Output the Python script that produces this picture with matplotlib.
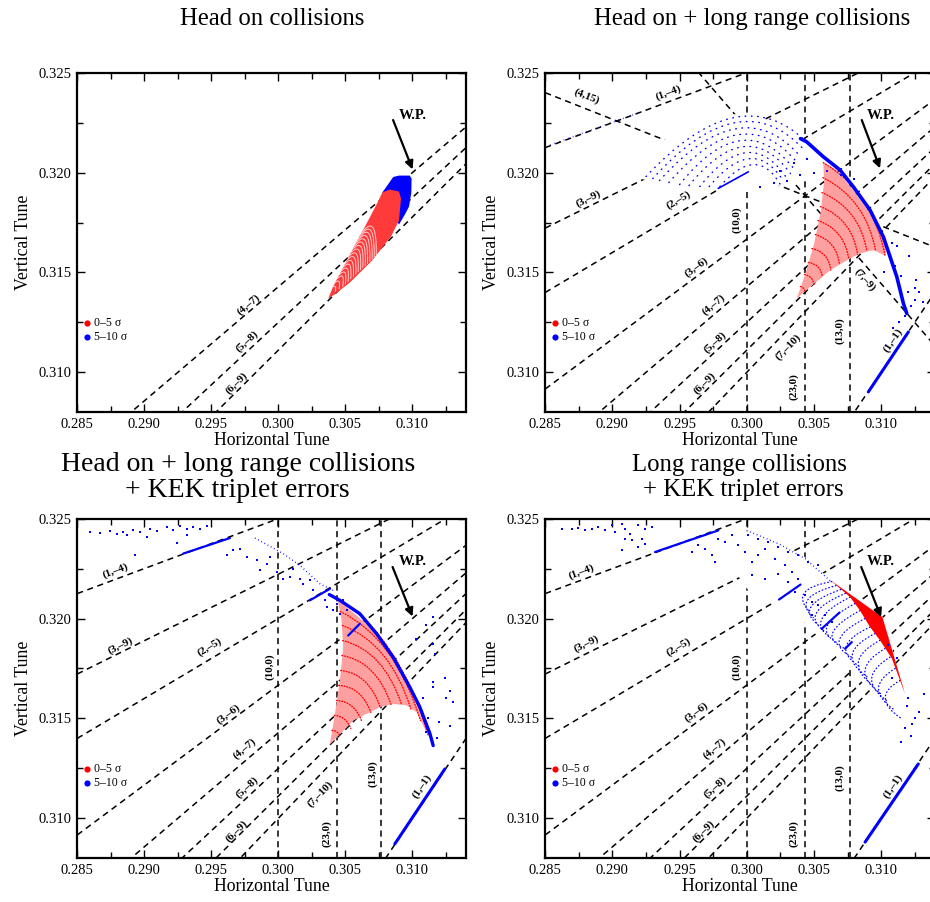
import numpy as np
import matplotlib
matplotlib.use("Agg")
import matplotlib.pyplot as plt
from matplotlib.path import Path
from matplotlib.patches import PathPatch, Polygon

plt.rcParams['font.family'] = ['Liberation Serif', 'DejaVu Serif']

# ---------------- data ----------------
QX_RANGE = (0.285, 0.314)
QY_RANGE = (0.308, 0.325)
x_ticks = [0.285, 0.290, 0.295, 0.300, 0.305, 0.310]
y_ticks = [0.310, 0.315, 0.320, 0.325]

# resonance lines m*Qx + n*Qy = p  -> (m, n, p)
res_ho = [(4, -7, -1), (5, -8, -1), (6, -9, -1)]
res_lr = [(1, -4, -1), (3, -9, -2), (2, -5, -1), (3, -6, -1), (4, -7, -1),
          (5, -8, -1), (6, -9, -1), (7, -10, -1), (10, 0, 3), (23, 0, 7),
          (13, 0, 4), (1, -1, 0)]
res_extra = [(4, 15, 6), (7, 9, 5)]

# resonance labels: text, qx, qy, (m, n) for direction
lab_p1 = [("(4,\u20137)", 0.29775, 0.31340, (4, -7)),
          ("(5,\u20138)", 0.29763, 0.31155, (5, -8)),
          ("(6,\u20139)", 0.29689, 0.30948, (6, -9))]
lab_p2 = [("(4,15)", 0.28808, 0.32380, (4, 15)),
          ("(1,\u20134)", 0.29416, 0.32397, (1, -4)),
          ("(3,\u20139)", 0.28820, 0.31871, (3, -9)),
          ("(2,\u20135)", 0.29490, 0.31862, (2, -5)),
          ("(10,0)", 0.29925, 0.31762, (10, 0)),
          ("(3,\u20136)", 0.29627, 0.31528, (3, -6)),
          ("(4,\u20137)", 0.29751, 0.31340, (4, -7)),
          ("(5,\u20138)", 0.29764, 0.31152, (5, -8)),
          ("(6,\u20139)", 0.29689, 0.30944, (6, -9)),
          ("(7,\u201310)", 0.30309, 0.31127, (7, -10)),
          ("(23,0)", 0.30347, 0.30927, (23, 0)),
          ("(13,0)", 0.30694, 0.31211, (13, 0)),
          ("(7,\u20139)", 0.30881, 0.31461, (7, 9)),
          ("(1,\u20131)", 0.31091, 0.31161, (1, -1))]
lab_p3 = [("(1,\u20134)", 0.28781, 0.32241, (1, -4)),
          ("(3,\u20139)", 0.28818, 0.31865, (3, -9)),
          ("(2,\u20135)", 0.29490, 0.31857, (2, -5)),
          ("(10,0)", 0.29937, 0.31757, (10, 0)),
          ("(3,\u20136)", 0.29626, 0.31523, (3, -6)),
          ("(4,\u20137)", 0.29751, 0.31348, (4, -7)),
          ("(5,\u20138)", 0.29763, 0.31155, (5, -8)),
          ("(6,\u20139)", 0.29689, 0.30938, (6, -9)),
          ("(7,\u201310)", 0.30310, 0.31122, (7, -10)),
          ("(23,0)", 0.30360, 0.30922, (23, 0)),
          ("(13,0)", 0.30707, 0.31222, (13, 0)),
          ("(1,\u20131)", 0.31068, 0.31162, (1, -1))]
lab_p4 = [("(1,\u20134)", 0.28771, 0.32232, (1, -4)),
          ("(3,\u20139)", 0.28808, 0.31874, (3, -9)),
          ("(2,\u20135)", 0.29490, 0.31857, (2, -5)),
          ("(10,0)", 0.29925, 0.31757, (10, 0)),
          ("(3,\u20136)", 0.29627, 0.31532, (3, -6)),
          ("(4,\u20137)", 0.29764, 0.31348, (4, -7)),
          ("(5,\u20138)", 0.29764, 0.31155, (5, -8)),
          ("(6,\u20139)", 0.29676, 0.30938, (6, -9)),
          ("(23,0)", 0.30347, 0.30922, (23, 0)),
          ("(13,0)", 0.30694, 0.31205, (13, 0)),
          ("(1,\u20131)", 0.31091, 0.31162, (1, -1))]

# W.P. arrows: text position, arrow tail, arrow head
wp_p1 = [(0.31006, 0.32288), (0.30856, 0.32263), (0.31001, 0.32016)]
wp_p2 = [(0.30998, 0.32288), (0.30856, 0.32263), (0.30992, 0.32021)]
wp_p3 = [(0.31006, 0.32283), (0.30852, 0.32258), (0.31001, 0.32010)]
wp_p4 = [(0.30998, 0.32283), (0.30852, 0.32258), (0.31000, 0.32007)]

# ---- panel 1: head on ----
p1_red_qx = [0.30372, 0.30409, 0.30534, 0.30670, 0.30740, 0.30775, 0.30830, 0.30900,
             0.30915, 0.30900, 0.30840, 0.30700, 0.30534, 0.30420]
p1_red_qy = [0.31370, 0.31430, 0.31590, 0.31760, 0.31850, 0.31900, 0.31915, 0.31905,
             0.31870, 0.31760, 0.31680, 0.31560, 0.31450, 0.31390]
p1_blue_qx = [0.30775, 0.30807, 0.30857, 0.30900, 0.30980, 0.30994, 0.30992, 0.30975,
              0.30944, 0.30900, 0.30880]
p1_blue_qy = [0.31900, 0.31930, 0.31978, 0.31985, 0.31985, 0.31970, 0.31900, 0.31830,
              0.31790, 0.31740, 0.31760]
# constant-amplitude arcs: start, mid, end
p1_arc_start = [(0.30400, 0.31425), (0.30420, 0.31448), (0.30440, 0.31470), (0.30455, 0.31489),
                (0.30470, 0.31508), (0.30485, 0.31527), (0.30500, 0.31545), (0.30515, 0.31564),
                (0.30530, 0.31583), (0.30545, 0.31602), (0.30560, 0.31620), (0.30573, 0.31635),
                (0.30585, 0.31650), (0.30598, 0.31665), (0.30610, 0.31680), (0.30623, 0.31695),
                (0.30635, 0.31710)]
p1_arc_mid = [(0.30425, 0.31430), (0.30453, 0.31455), (0.30480, 0.31480), (0.30498, 0.31499),
              (0.30515, 0.31518), (0.30533, 0.31537), (0.30550, 0.31555), (0.30568, 0.31573),
              (0.30585, 0.31590), (0.30603, 0.31608), (0.30620, 0.31625), (0.30635, 0.31642),
              (0.30650, 0.31658), (0.30665, 0.31674), (0.30680, 0.31690), (0.30695, 0.31705),
              (0.30710, 0.31720)]
p1_arc_end = [(0.30425, 0.31405), (0.30453, 0.31418), (0.30480, 0.31430), (0.30500, 0.31443),
              (0.30520, 0.31455), (0.30540, 0.31468), (0.30560, 0.31480), (0.30578, 0.31492),
              (0.30595, 0.31503), (0.30613, 0.31514), (0.30630, 0.31525), (0.30648, 0.31535),
              (0.30665, 0.31545), (0.30683, 0.31555), (0.30700, 0.31565), (0.30715, 0.31577),
              (0.30730, 0.31588)]

# ---- panel 2: head on + long range ----
p2_red_qx = [0.30372, 0.30430, 0.30500, 0.30550, 0.30575, 0.30570, 0.30670, 0.30793,
             0.30918, 0.31017, 0.31042, 0.31029, 0.30942, 0.30843, 0.30769, 0.30620]
p2_red_qy = [0.31370, 0.31480, 0.31640, 0.31800, 0.31950, 0.32050, 0.32013, 0.31912,
             0.31796, 0.31678, 0.31612, 0.31585, 0.31612, 0.31595, 0.31570, 0.31511]
p2_arc_start = [(0.30400, 0.31430), (0.30430, 0.31490), (0.30458, 0.31550), (0.30485, 0.31620),
                (0.30510, 0.31690), (0.30530, 0.31760), (0.30548, 0.31830), (0.30560, 0.31900),
                (0.30567, 0.31975), (0.30570, 0.32050)]
p2_arc_mid = [(0.30425, 0.31419), (0.30479, 0.31473), (0.30531, 0.31528), (0.30583, 0.31583),
              (0.30635, 0.31636), (0.30687, 0.31688), (0.30736, 0.31739), (0.30784, 0.31786),
              (0.30827, 0.31828), (0.30870, 0.31860)]
p2_arc_end = [(0.30435, 0.31400), (0.30500, 0.31440), (0.30562, 0.31480), (0.30625, 0.31512),
              (0.30690, 0.31540), (0.30760, 0.31565), (0.30825, 0.31590), (0.30895, 0.31605),
              (0.30960, 0.31605), (0.31029, 0.31585)]
p2_band_qx = [0.30400, 0.30446, 0.30570, 0.30694, 0.30793, 0.30918, 0.31017, 0.31067,
              0.31117, 0.31166, 0.31191]
p2_band_qy = [0.32170, 0.32154, 0.32079, 0.32013, 0.31929, 0.31812, 0.31678, 0.31578,
              0.31478, 0.31345, 0.31295]
p2_dome_start = [(0.29250, 0.31980), (0.29300, 0.31970), (0.29350, 0.31960), (0.29420, 0.31950),
                 (0.29500, 0.31940), (0.29570, 0.31935), (0.29650, 0.31930), (0.29720, 0.31930),
                 (0.29800, 0.31930)]
p2_dome_mid = [(0.29900, 0.32275), (0.29910, 0.32250), (0.29920, 0.32220), (0.29935, 0.32190),
               (0.29950, 0.32160), (0.29975, 0.32130), (0.30000, 0.32100), (0.30025, 0.32070),
               (0.30050, 0.32040)]
p2_dome_end = [(0.30450, 0.32150), (0.30425, 0.32115), (0.30400, 0.32080), (0.30375, 0.32050),
               (0.30350, 0.32020), (0.30325, 0.31995), (0.30300, 0.31970), (0.30275, 0.31955),
               (0.30250, 0.31940)]
p2_mask_qx = [0.2920, 0.2930, 0.2950, 0.2975, 0.2995, 0.3015, 0.3035, 0.3050, 0.3057,
              0.3045, 0.3030, 0.3010, 0.2990, 0.2960, 0.2935]
p2_mask_qy = [0.3197, 0.3212, 0.3222, 0.3228, 0.32295, 0.3226, 0.3220, 0.3214, 0.3205,
              0.3198, 0.3194, 0.3192, 0.3191, 0.3193, 0.3195]
p2_tail = [(0.28535, 0.32138), (0.29218, 0.32305)]
p2_seg = [(0.29788, 0.31921), (0.30012, 0.32004)]
p2_dots_qx = [0.3105, 0.3110, 0.3115, 0.3120, 0.3125, 0.3122, 0.3118, 0.3108, 0.3112, 0.3102,
              0.3125, 0.3113, 0.3109, 0.3121, 0.3010, 0.3020, 0.3030, 0.3040, 0.3050, 0.3060,
              0.3070, 0.3080, 0.3025, 0.3035, 0.3045, 0.3128, 0.3131, 0.3126]
p2_dots_qy = [0.3160, 0.3153, 0.3148, 0.3140, 0.3142, 0.3133, 0.3128, 0.3165, 0.3163, 0.3150,
              0.3136, 0.3125, 0.3122, 0.3158, 0.3193, 0.3195, 0.3196, 0.3199, 0.3200, 0.3201,
              0.3199, 0.3197, 0.3201, 0.3205, 0.3207, 0.3140, 0.3135, 0.3146]
p2_diag = [(0.30905, 0.30902), (0.31203, 0.31202)]

# ---- panel 3: head on + long range + KEK triplet errors ----
p3_red_qx = [0.30384, 0.30422, 0.30459, 0.30484, 0.30470, 0.30440, 0.30509, 0.30658,
             0.30807, 0.30931, 0.31006, 0.31056, 0.31106, 0.31118, 0.31031, 0.30956,
             0.30856, 0.30757, 0.30558]
p3_red_qy = [0.31369, 0.31523, 0.31690, 0.31857, 0.32000, 0.32100, 0.32057, 0.31974,
             0.31857, 0.31723, 0.31623, 0.31523, 0.31456, 0.31414, 0.31531, 0.31565,
             0.31573, 0.31556, 0.31489]
p3_arc_start = [(0.30400, 0.31440), (0.30417, 0.31515), (0.30433, 0.31590), (0.30449, 0.31665),
                (0.30465, 0.31740), (0.30474, 0.31815), (0.30480, 0.31890), (0.30478, 0.31965),
                (0.30462, 0.32035), (0.30440, 0.32100)]
p3_arc_mid = [(0.30436, 0.31433), (0.30491, 0.31498), (0.30545, 0.31563), (0.30594, 0.31629),
              (0.30643, 0.31687), (0.30694, 0.31739), (0.30743, 0.31784), (0.30783, 0.31817),
              (0.30816, 0.31833), (0.30840, 0.31835)]
p3_arc_end = [(0.30460, 0.31410), (0.30540, 0.31450), (0.30620, 0.31490), (0.30690, 0.31530),
              (0.30760, 0.31556), (0.30840, 0.31570), (0.30920, 0.31568), (0.30990, 0.31545),
              (0.31060, 0.31490), (0.31118, 0.31414)]
p3_band_qx = [0.30380, 0.30459, 0.30608, 0.30733, 0.30856, 0.30981, 0.31056, 0.31131, 0.31155]
p3_band_qy = [0.32120, 0.32091, 0.32024, 0.31924, 0.31807, 0.31656, 0.31556, 0.31423, 0.31364]
p3_chain = [(0.29825, 0.32403), (0.30036, 0.32325), (0.30161, 0.32266), (0.30310, 0.32174),
            (0.30409, 0.32141)]
p3_segs = [[(0.29290, 0.32325), (0.29639, 0.32403)],
           [(0.30235, 0.32091), (0.30385, 0.32149)],
           [(0.30521, 0.31915), (0.30608, 0.31974)]]
p3_dots_qx = [0.28595, 0.28670, 0.28744, 0.28794, 0.28844, 0.28869, 0.28918, 0.28968, 0.29043,
              0.29093, 0.29167, 0.29217, 0.29267, 0.29317, 0.29366, 0.29416, 0.29466, 0.29018,
              0.29242, 0.29317, 0.28931,
              0.29614, 0.29664, 0.29714, 0.29763, 0.29838, 0.29863, 0.29913, 0.29938, 0.29987,
              0.30037, 0.30087, 0.30112, 0.30161, 0.30186, 0.30236, 0.30261, 0.30310, 0.30348,
              0.30360, 0.30410, 0.30435, 0.30460, 0.30510, 0.30485,
              0.31155, 0.31282, 0.31155, 0.31170, 0.31250, 0.31300, 0.31120, 0.31200, 0.31280,
              0.31080, 0.31150, 0.31100, 0.31180, 0.31030, 0.31100, 0.31155, 0.31240]
p3_dots_qy = [0.32433, 0.32428, 0.32438, 0.32425, 0.32433, 0.32416, 0.32445, 0.32433, 0.32450,
              0.32438, 0.32458, 0.32445, 0.32461, 0.32450, 0.32458, 0.32450, 0.32461, 0.32408,
              0.32378, 0.32416, 0.32316,
              0.32316, 0.32341, 0.32349, 0.32308, 0.32291, 0.32241, 0.32274, 0.32308, 0.32233,
              0.32200, 0.32208, 0.32250, 0.32200, 0.32175, 0.32191, 0.32141, 0.32125, 0.32091,
              0.32058, 0.32041, 0.32075, 0.32025, 0.32041, 0.32091,
              0.31656, 0.31639, 0.31874, 0.31820, 0.31600, 0.31580, 0.31500, 0.31480, 0.31460,
              0.31600, 0.31680, 0.31430, 0.31400, 0.31900, 0.31970, 0.32010, 0.31700]
p3_diag = [(0.30869, 0.30872), (0.31242, 0.31247)]

# ---- panel 4: long range + KEK triplet errors ----
p4_red_qx = [0.30625, 0.31010, 0.31178, 0.31141, 0.31080, 0.30992, 0.30918, 0.30843, 0.30769]
p4_red_qy = [0.32191, 0.32007, 0.31623, 0.31690, 0.31800, 0.31891, 0.31957, 0.32040, 0.32107]
p4_arc_start = [(0.30633, 0.32185), (0.30665, 0.32165), (0.30700, 0.32145), (0.30735, 0.32126),
                (0.30769, 0.32107), (0.30805, 0.32075), (0.30843, 0.32040), (0.30880, 0.32000),
                (0.30918, 0.31957), (0.30955, 0.31925), (0.30992, 0.31891), (0.31030, 0.31850),
                (0.31067, 0.31807), (0.31105, 0.31750), (0.31141, 0.31690)]
p4_arc_mid = [(0.30430, 0.32130), (0.30455, 0.32095), (0.30480, 0.32060), (0.30520, 0.32030),
              (0.30560, 0.32000), (0.30600, 0.31965), (0.30640, 0.31930), (0.30690, 0.31895),
              (0.30740, 0.31860), (0.30785, 0.31820), (0.30830, 0.31780), (0.30880, 0.31740),
              (0.30930, 0.31700), (0.30980, 0.31650), (0.31030, 0.31600)]
p4_arc_end = [(0.30460, 0.32040), (0.30495, 0.32005), (0.30530, 0.31970), (0.30575, 0.31938),
              (0.30620, 0.31905), (0.30675, 0.31878), (0.30730, 0.31850), (0.30785, 0.31805),
              (0.30840, 0.31760), (0.30895, 0.31710), (0.30950, 0.31660), (0.30995, 0.31625),
              (0.31040, 0.31590), (0.31095, 0.31545), (0.31150, 0.31500)]
p4_chain = [(0.29999, 0.32441), (0.30235, 0.32375), (0.30434, 0.32300), (0.30633, 0.32182)]
p4_segs = [[(0.29317, 0.32333), (0.29788, 0.32441)],
           [(0.30240, 0.32095), (0.30400, 0.32170)],
           [(0.30560, 0.31950), (0.30690, 0.32030)],
           [(0.30732, 0.31849), (0.30782, 0.31882)]]
p4_mask_qx = [0.2995, 0.3025, 0.3045, 0.3063, 0.3101, 0.3118, 0.3125, 0.3110, 0.3090,
              0.3070, 0.3050, 0.3040, 0.3025, 0.3000, 0.2990, 0.2975]
p4_mask_qy = [0.3245, 0.3238, 0.3230, 0.3219, 0.3201, 0.3162, 0.3145, 0.3150, 0.3165,
              0.3180, 0.3193, 0.3200, 0.3205, 0.3215, 0.3225, 0.3232]
p4_dots_qx = [0.28622, 0.28696, 0.28746, 0.28796, 0.28845, 0.28895, 0.28945, 0.28994, 0.29019,
              0.29069, 0.29093, 0.29131, 0.29143, 0.29193, 0.29243, 0.29292, 0.29093, 0.29218,
              0.29069, 0.29193, 0.29243,
              0.29590, 0.29640, 0.29689, 0.29739, 0.29764, 0.29788, 0.29838, 0.29888, 0.29937,
              0.29987, 0.30036, 0.30086, 0.30136, 0.30211, 0.30285, 0.30335, 0.30384, 0.30036,
              0.30136, 0.30235, 0.30012, 0.30086, 0.30161, 0.30235, 0.30310, 0.30384, 0.30459,
              0.30533, 0.30310, 0.30360, 0.30434, 0.30484, 0.30533, 0.30583, 0.30633, 0.30558,
              0.30484,
              0.31200, 0.31250, 0.31180, 0.31220, 0.31280, 0.31320, 0.31150, 0.31080, 0.31120,
              0.31050, 0.31190, 0.31230]
p4_dots_qy = [0.32450, 0.32450, 0.32453, 0.32441, 0.32450, 0.32458, 0.32441, 0.32466, 0.32433,
              0.32475, 0.32450, 0.32425, 0.32391, 0.32466, 0.32450, 0.32458, 0.32400, 0.32400,
              0.32341, 0.32358, 0.32375,
              0.32333, 0.32366, 0.32350, 0.32316, 0.32283, 0.32400, 0.32383, 0.32416, 0.32366,
              0.32333, 0.32283, 0.32316, 0.32350, 0.32300, 0.32266, 0.32233, 0.32199, 0.32216,
              0.32199, 0.32225, 0.32416, 0.32400, 0.32383, 0.32358, 0.32333, 0.32316, 0.32283,
              0.32266, 0.32183, 0.32133, 0.32116, 0.32083, 0.32066, 0.32016, 0.31983, 0.31949,
              0.32016,
              0.31600, 0.31500, 0.31450, 0.31410, 0.31530, 0.31620, 0.31380, 0.31700, 0.31800,
              0.31870, 0.31560, 0.31470]
p4_diag = [(0.30881, 0.30881), (0.31277, 0.31272)]

legend_labels = ["0\u20135 \u03c3", "5\u201310 \u03c3"]

# ---------------- drawing helpers ----------------
DASH = (0, (4, 3))


def draw_res(ax, res):
    xs = np.array(QX_RANGE)
    for m, n, p in res:
        if n == 0:
            ax.axvline(p / m, color='black', lw=1.1, linestyle=DASH, zorder=1)
        else:
            ax.plot(xs, (p - m * xs) / n, color='black', lw=1.1, linestyle=DASH, zorder=1)


def draw_labels(ax, labels):
    for txt, x, y, (m, n) in labels:
        ang = 90.0 if n == 0 else np.degrees(np.arctan(-m / n))
        ax.text(x, y, txt, fontsize=8, fontweight='bold', ha='center', va='center',
                rotation=ang, rotation_mode='anchor', transform_rotates_text=True, zorder=6)


def draw_arcs(ax, starts, mids, ends, color, lw=1.0, style=(0, (0.6, 1.4))):
    for s, m, e in zip(starts, mids, ends):
        s, m, e = np.array(s), np.array(m), np.array(e)
        ctrl = 2 * m - 0.5 * (s + e)
        path = Path([s, ctrl, e], [Path.MOVETO, Path.CURVE3, Path.CURVE3])
        ax.add_patch(PathPatch(path, fill=False, edgecolor=color, lw=lw,
                               linestyle=style, capstyle='round', zorder=4))


def poly(ax, qx, qy, color, z, **kw):
    ax.add_patch(Polygon(np.column_stack([qx, qy]), closed=True, facecolor=color,
                         edgecolor='none', zorder=z, **kw))


def wp(ax, spec):
    (tx, ty), (ax0, ay0), (hx, hy) = spec
    ax.text(tx, ty, "W.P.", fontsize=10.5, fontweight='bold', ha='center', va='center', zorder=7)
    ax.annotate("", xy=(hx, hy), xytext=(ax0, ay0),
                arrowprops=dict(arrowstyle='-|>', color='black', lw=1.6,
                                mutation_scale=12, shrinkA=0, shrinkB=0), zorder=7)


def legend(ax):
    for i, (lab, col) in enumerate(zip(legend_labels, ['red', 'blue'])):
        y = 0.264 - i * 0.041
        ax.scatter([0.026], [y], s=20, color=col, transform=ax.transAxes, zorder=8,
                   linewidths=0)
        ax.text(0.042, y, lab, fontsize=8.5, va='center', ha='left', transform=ax.transAxes,
                zorder=8)


def seg(ax, pts, lw=2.0, color='blue'):
    pts = np.array(pts)
    ax.plot(pts[:, 0], pts[:, 1], color=color, lw=lw, solid_capstyle='round', zorder=5)


def dots(ax, qx, qy):
    ax.scatter(qx, qy, s=1.8, color='blue', marker='s', linewidths=0, zorder=5)


def frame(ax):
    ax.set_xlim(*QX_RANGE)
    ax.set_ylim(*QY_RANGE)
    ax.set_xticks(x_ticks)
    ax.set_xticklabels(["%.3f" % v for v in x_ticks])
    ax.set_yticks(y_ticks)
    ax.set_yticklabels(["%.3f" % v for v in y_ticks])
    ax.set_xticks(np.arange(0.2875, 0.314, 0.005), minor=True)
    ax.set_yticks([0.3125, 0.3175, 0.3225], minor=True)
    ax.tick_params(which='both', direction='in', top=True, right=True, labelsize=10.5,
                   width=1.0)
    ax.tick_params(which='major', length=6, pad=4)
    ax.tick_params(which='minor', length=4)
    for sp in ax.spines.values():
        sp.set_linewidth(1.6)
    ax.set_xlabel("Horizontal Tune", fontsize=12.8, labelpad=1)
    ax.set_ylabel("Vertical Tune", fontsize=12.8, labelpad=5)


# ---------------- figure ----------------
fig = plt.figure(figsize=(9.3, 9.02), dpi=100)
ax1 = fig.add_axes([0.0831, 0.5429, 0.4180, 0.3765])
ax2 = fig.add_axes([0.5863, 0.5429, 0.4189, 0.3765])
ax3 = fig.add_axes([0.0831, 0.0485, 0.4180, 0.3765])
ax4 = fig.add_axes([0.5863, 0.0485, 0.4189, 0.3765])

# panel 1
frame(ax1)
draw_res(ax1, res_ho)
draw_labels(ax1, lab_p1)
poly(ax1, p1_blue_qx, p1_blue_qy, 'blue', 3)
poly(ax1, p1_red_qx, p1_red_qy, '#ff3a3a', 3.5)
draw_arcs(ax1, p1_arc_start, p1_arc_mid, p1_arc_end, '#ffd0d0', lw=0.7, style='solid')
wp(ax1, wp_p1)
legend(ax1)

# panel 2
frame(ax2)
draw_res(ax2, res_lr + res_extra)
poly(ax2, p2_mask_qx, p2_mask_qy, 'white', 2)
draw_labels(ax2, lab_p2)
poly(ax2, p2_red_qx, p2_red_qy, '#ffa0a0', 3)
draw_arcs(ax2, p2_arc_start, p2_arc_mid, p2_arc_end, 'red')
draw_arcs(ax2, p2_dome_start, p2_dome_mid, p2_dome_end, 'blue', lw=1.0, style=(0, (0.5, 4.0)))
seg(ax2, list(zip(p2_band_qx, p2_band_qy)), lw=2.6)
ax2.plot(*np.array(p2_tail).T, color='blue', lw=1.0, linestyle=(0, (0.5, 3)), zorder=5)
seg(ax2, p2_seg, lw=1.2)
dots(ax2, p2_dots_qx, p2_dots_qy)
seg(ax2, p2_diag, lw=2.2)
wp(ax2, wp_p2)
legend(ax2)

# panel 3
frame(ax3)
draw_res(ax3, res_lr)
draw_labels(ax3, lab_p3)
poly(ax3, p3_red_qx, p3_red_qy, '#ffa0a0', 3)
draw_arcs(ax3, p3_arc_start, p3_arc_mid, p3_arc_end, 'red')
seg(ax3, list(zip(p3_band_qx, p3_band_qy)), lw=2.4)
ax3.plot(*np.array(p3_chain).T, color='blue', lw=1.0, linestyle=(0, (0.6, 2)), zorder=5)
for s in p3_segs:
    seg(ax3, s, lw=1.6)
dots(ax3, p3_dots_qx, p3_dots_qy)
seg(ax3, p3_diag, lw=2.2)
wp(ax3, wp_p3)
legend(ax3)

# panel 4
frame(ax4)
draw_res(ax4, res_lr)
poly(ax4, p4_mask_qx, p4_mask_qy, 'white', 2)
draw_labels(ax4, lab_p4)
draw_arcs(ax4, p4_arc_start, p4_arc_mid, p4_arc_end, 'blue', lw=0.9, style=(0, (0.6, 2.2)))
poly(ax4, p4_red_qx, p4_red_qy, 'red', 4.5)
ax4.plot(*np.array(p4_chain).T, color='blue', lw=1.0, linestyle=(0, (0.6, 2)), zorder=5)
for s in p4_segs:
    seg(ax4, s, lw=1.6)
dots(ax4, p4_dots_qx, p4_dots_qy)
seg(ax4, p4_diag, lw=2.2)
wp(ax4, wp_p4)
legend(ax4)

# titles
tkw = dict(ha='center', va='center')
fig.text(0.2925, 0.979, "Head on collisions", fontsize=17.8, **tkw)
fig.text(0.8085, 0.979, "Head on + long range collisions", fontsize=17.8, **tkw)
fig.text(0.2565, 0.4850, "Head on + long range collisions", fontsize=20.0, **tkw)
fig.text(0.2554, 0.4565, "+ KEK triplet errors", fontsize=20.0, **tkw)
fig.text(0.7946, 0.4845, "Long range collisions", fontsize=17.8, **tkw)
fig.text(0.7990, 0.4568, "+ KEK triplet errors", fontsize=17.8, **tkw)

fig.savefig("out.png", dpi=100)
